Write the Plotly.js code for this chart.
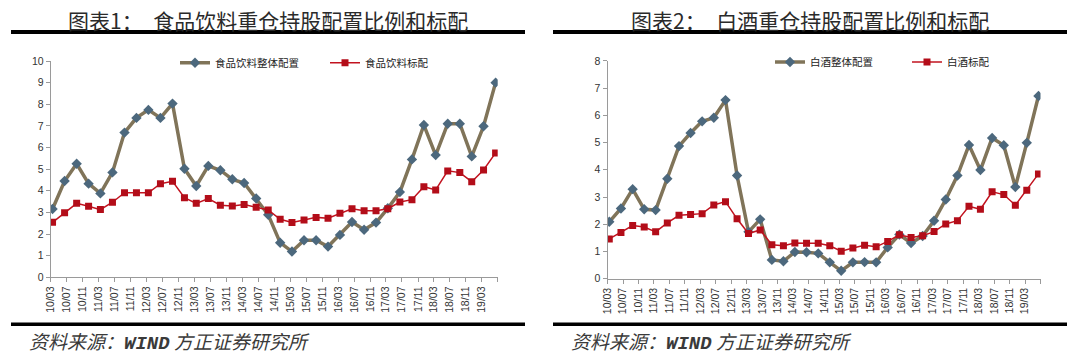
<!DOCTYPE html>
<html>
<head>
<meta charset="utf-8">
<script src="https://cdn.plot.ly/plotly-3.0.1.min.js"></script>
<style>
html,body{margin:0;padding:0;background:#fff;}
#chart{width:1080px;height:361px;}
</style>
</head>
<body>
<div id="chart"></div>
<script>
// ---- data ----
var quarters = ['2010-03','2010-06','2010-09','2010-12','2011-03','2011-06','2011-09','2011-12',
  '2012-03','2012-06','2012-09','2012-12','2013-03','2013-06','2013-09','2013-12',
  '2014-03','2014-06','2014-09','2014-12','2015-03','2015-06','2015-09','2015-12',
  '2016-03','2016-06','2016-09','2016-12','2017-03','2017-06','2017-09','2017-12',
  '2018-03','2018-06','2018-09','2018-12','2019-03','2019-06'];

var tickLabels = ['10/03','10/07','10/11','11/03','11/07','11/11','12/03','12/07','12/11',
  '13/03','13/07','13/11','14/03','14/07','14/11','15/03','15/07','15/11',
  '16/03','16/07','16/11','17/03','17/07','17/11','18/03','18/07','18/11','19/03'];

var foodTotal = [3.16,4.45,5.25,4.33,3.88,4.85,6.69,7.37,7.74,7.37,8.03,5.02,4.22,5.15,4.95,4.53,
  4.36,3.64,2.89,1.60,1.19,1.71,1.71,1.42,1.96,2.56,2.20,2.53,3.19,3.94,5.45,7.04,
  5.65,7.10,7.10,5.59,6.98,9.00];
var foodStd = [2.54,2.99,3.42,3.28,3.13,3.47,3.91,3.91,3.91,4.33,4.44,3.68,3.42,3.64,3.33,3.30,
  3.36,3.24,3.11,2.68,2.53,2.65,2.77,2.73,2.96,3.17,3.08,3.08,3.17,3.48,3.59,4.19,
  4.04,4.92,4.84,4.42,4.96,5.75];

var liquorTotal = [2.09,2.58,3.29,2.55,2.52,3.67,4.87,5.35,5.78,5.91,6.56,3.79,1.72,2.18,0.69,0.64,
  0.98,0.97,0.93,0.60,0.29,0.60,0.61,0.60,1.15,1.62,1.31,1.57,2.13,2.91,3.79,4.91,
  3.99,5.17,4.90,3.37,4.99,6.71];
var liquorStd = [1.46,1.70,1.95,1.90,1.72,2.05,2.33,2.36,2.39,2.71,2.83,2.20,1.66,1.79,1.25,1.21,
  1.31,1.30,1.30,1.21,1.01,1.13,1.23,1.17,1.37,1.61,1.51,1.58,1.73,2.01,2.13,2.66,
  2.55,3.19,3.09,2.70,3.25,3.85];

var names = ['食品饮料整体配置','食品饮料标配','白酒整体配置','白酒标配'];
var titles = ['图表1：　食品饮料重仓持股配置比例和标配','图表2：　白酒重仓持股配置比例和标配'];
var sourceText = '资料来源：';
var sourceOrg = 'WIND';
var sourceName = '方正证券研究所';

// ---- helpers ----
var W = 1080, H = 361;
function px(x){ return x / W; }
function py(y){ return (H - y) / H; }
var xDates = quarters.map(function(q){ return q + '-15'; });
var tickVals = tickLabels.map(function(t){ return '20' + t.slice(0,2) + '-' + t.slice(3) + '-01'; });
tickVals.push('2019-07-01');
var tickText = tickLabels.concat(['']);

var brown = '#807459', diamond = '#4c687d', redLine = '#c2131f', redMark = '#b30d19';

function totalTrace(y, name, xa, ya, lg){
  return {x:xDates, y:y, name:name, type:'scatter', mode:'lines+markers', xaxis:xa, yaxis:ya, legend:lg,
    line:{color:brown, width:3.5}, marker:{symbol:'diamond', size:8, color:diamond}, hoverinfo:'skip'};
}
function stdTrace(y, name, xa, ya, lg){
  return {x:xDates, y:y, name:name, type:'scatter', mode:'lines+markers', xaxis:xa, yaxis:ya, legend:lg,
    line:{color:redLine, width:1.5}, marker:{symbol:'square', size:7, color:redMark}, hoverinfo:'skip'};
}

var data = [
  totalTrace(foodTotal, names[0], 'x', 'y', 'legend'),
  stdTrace(foodStd, names[1], 'x', 'y', 'legend2'),
  totalTrace(liquorTotal, names[2], 'x2', 'y2', 'legend3'),
  stdTrace(liquorStd, names[3], 'x2', 'y2', 'legend4')
];

var tickFont = {family:'Liberation Sans, Arial, sans-serif', size:10.5, color:'#333'};
function xAxis(d, anchor){
  return {domain:d, anchor:anchor, type:'date', range:['2010-03-01','2019-07-01'],
    tickmode:'array', tickvals:tickVals, ticktext:tickText, tickangle:-90,
    ticks:'outside', ticklen:4, tickcolor:'#9a9a9a', showline:true, linecolor:'#9a9a9a', linewidth:1,
    showgrid:false, zeroline:false, tickfont:tickFont, fixedrange:true};
}
function yAxis(d, anchor, max){
  return {domain:d, anchor:anchor, range:[0,max], dtick:1, tick0:0,
    ticks:'outside', ticklen:4, tickcolor:'#9a9a9a', showline:true, linecolor:'#9a9a9a', linewidth:1,
    showgrid:false, zeroline:false, tickfont:tickFont, fixedrange:true};
}
var legFont = {family:'Noto Sans CJK SC, sans-serif', size:10.5, color:'#222'};
function leg(x, y){
  return {x:x, y:y, xanchor:'left', yanchor:'middle', orientation:'h', bgcolor:'rgba(0,0,0,0)',
    borderwidth:0, font:legFont};
}

var titleFont = {family:'Noto Sans CJK SC, sans-serif', size:21, color:'#2a2a2a'};
var srcHtml = '<i>' + sourceText + '<span style="font-family:\'Liberation Mono\'"><b>' + sourceOrg +
  '</b></span> ' + sourceName + '</i>';
var srcFont = {family:'Noto Sans CJK SC, sans-serif', size:19, color:'#3a3a3a'};

var layout = {
  width:W, height:H, autosize:false,
  margin:{l:0, r:0, t:0, b:0, pad:0},
  paper_bgcolor:'#fff', plot_bgcolor:'#fff',
  showlegend:true,
  xaxis: xAxis([px(50.7), px(497.7)], 'y'),
  yaxis: yAxis([py(277.3), py(61)], 'x', 10),
  xaxis2: xAxis([px(607.5), px(1040.5)], 'y2'),
  yaxis2: yAxis([py(278.7), py(60.9)], 'x2', 8),
  legend: leg(px(175), py(62.7)),
  legend2: leg(px(325), py(62.7)),
  legend3: leg(px(770), py(62)),
  legend4: leg(px(907), py(62)),
  shapes: [
    {type:'line', xref:'paper', yref:'paper', x0:px(11), x1:px(525), y0:py(32), y1:py(32), line:{color:'#000', width:4}},
    {type:'line', xref:'paper', yref:'paper', x0:px(553), x1:px(1067), y0:py(32), y1:py(32), line:{color:'#000', width:4}},
    {type:'line', xref:'paper', yref:'paper', x0:px(11), x1:px(525), y0:py(324.3), y1:py(324.3), line:{color:'#000', width:3.5}},
    {type:'line', xref:'paper', yref:'paper', x0:px(553), x1:px(1067), y0:py(324.3), y1:py(324.3), line:{color:'#000', width:3.5}}
  ],
  annotations: [
    {xref:'paper', yref:'paper', x:px(268), y:py(19.5), xanchor:'center', yanchor:'middle', showarrow:false, text:titles[0], font:titleFont},
    {xref:'paper', yref:'paper', x:px(810), y:py(19.5), xanchor:'center', yanchor:'middle', showarrow:false, text:titles[1], font:titleFont},
    {xref:'paper', yref:'paper', x:px(26.7), y:py(341), xanchor:'left', yanchor:'middle', showarrow:false, text:srcHtml, font:srcFont},
    {xref:'paper', yref:'paper', x:px(568.7), y:py(341), xanchor:'left', yanchor:'middle', showarrow:false, text:srcHtml, font:srcFont}
  ]
};

Plotly.newPlot('chart', data, layout, {displayModeBar:false, staticPlot:true});
</script>
</body>
</html>
